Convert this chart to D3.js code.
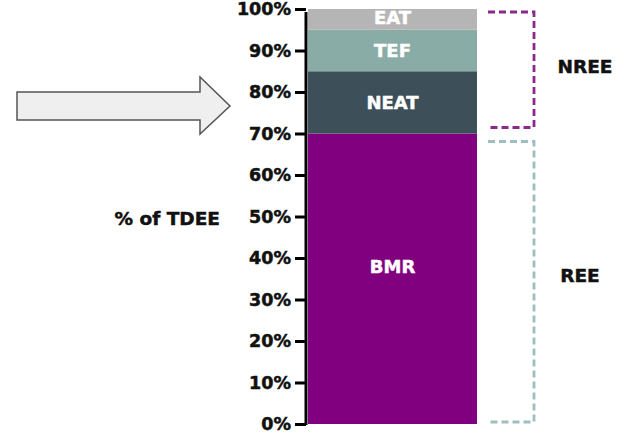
<!DOCTYPE html>
<html><head><meta charset="utf-8">
<script src="https://cdn.jsdelivr.net/npm/d3@7"></script>
<style>body{margin:0;background:#fff}svg{display:block}text{font-family:"DejaVu Sans",sans-serif;font-weight:bold}</style>
</head><body><svg id="c" width="625" height="436"></svg>
<script>
const categories = ["BMR", "NEAT", "TEF", "EAT"];
const values = [70, 15, 10, 5];
const colors = ["#800080", "#3d4f58", "#89aca6", "#b5b5b5"];
const labelAt = [38, 77.5, 90, 98];
const tickValues = [0,10,20,30,40,50,60,70,80,90,100];
const groups = [{name:"NREE", from:70, to:100, color:"#8b2a8b"}, {name:"REE", from:0, to:70, color:"#9fbfbf"}];

const svg = d3.select("#c");
const y = d3.scaleLinear().domain([0,100]).range([424, 9]);
const x = d3.scaleBand().domain(["TDEE"]).range([308, 477]).padding(0);

let cum = 0;
const segs = categories.map((c,i)=>{const s={name:c,y0:cum,y1:cum+values[i],color:colors[i],lab:labelAt[i]};cum+=values[i];return s;});

svg.selectAll("rect.seg").data(segs).join("rect").attr("class","seg")
  .attr("x", x("TDEE")).attr("width", x.bandwidth())
  .attr("y", d=>y(d.y1)).attr("height", d=>y(d.y0)-y(d.y1)).attr("fill", d=>d.color);

svg.selectAll("text.seg").data(segs).join("text").attr("class","seg")
  .attr("x", x("TDEE")+x.bandwidth()/2).attr("y", d=>y(d.lab)).attr("dy","0.36em")
  .attr("text-anchor","middle").attr("fill","#fff").attr("stroke","#fff").attr("stroke-width",0.5)
  .attr("font-size",18).text(d=>d.name);

const axis = d3.axisLeft(y).tickValues(tickValues).tickFormat(d=>d+"%").tickSize(11).tickPadding(4);
const ax = svg.append("g").attr("transform","translate(306,0)").call(axis);
ax.select(".domain").attr("stroke","#000").attr("stroke-width",3).attr("d", `M0,${y(100)+3}V${y(0)+1}`);
ax.selectAll(".tick line").attr("stroke","#000").attr("stroke-width",3);
ax.selectAll(".tick text").attr("fill","#111").attr("stroke","#111").attr("stroke-width",0.5)
  .attr("font-size",17.5).attr("font-family","DejaVu Sans").attr("font-weight","bold");

svg.append("text").attr("x",220).attr("y",218).attr("dy","0.36em").attr("text-anchor","end")
  .attr("font-size",18.5).attr("fill","#111").attr("stroke","#111").attr("stroke-width",0.5).text("% of TDEE");

// brackets
const bx0 = 488, bx1 = 534;
groups.forEach((g,i)=>{
  const top = y(g.to) + (i===0?3:8), bot = y(g.from) - (i===0?6:2);
  svg.append("path").attr("d",`M${bx0},${top}H${bx1}V${bot}H${bx0}`).attr("fill","none")
    .attr("stroke",g.color).attr("stroke-width",2.8).attr("stroke-dasharray","7,4");
  svg.append("text").attr("x", i===0?585:580).attr("y",(top+bot)/2 - (i===0?3:6)).attr("dy","0.36em").attr("text-anchor","middle")
    .attr("font-size",18.5).attr("fill","#111").attr("stroke","#111").attr("stroke-width",0.5).text(g.name);
});

// arrow
svg.append("path").attr("d","M17,92H200V77L230,106L200,134V120H17Z")
  .attr("fill","#efefef").attr("stroke","#555").attr("stroke-width",1.5);
</script></body></html>
